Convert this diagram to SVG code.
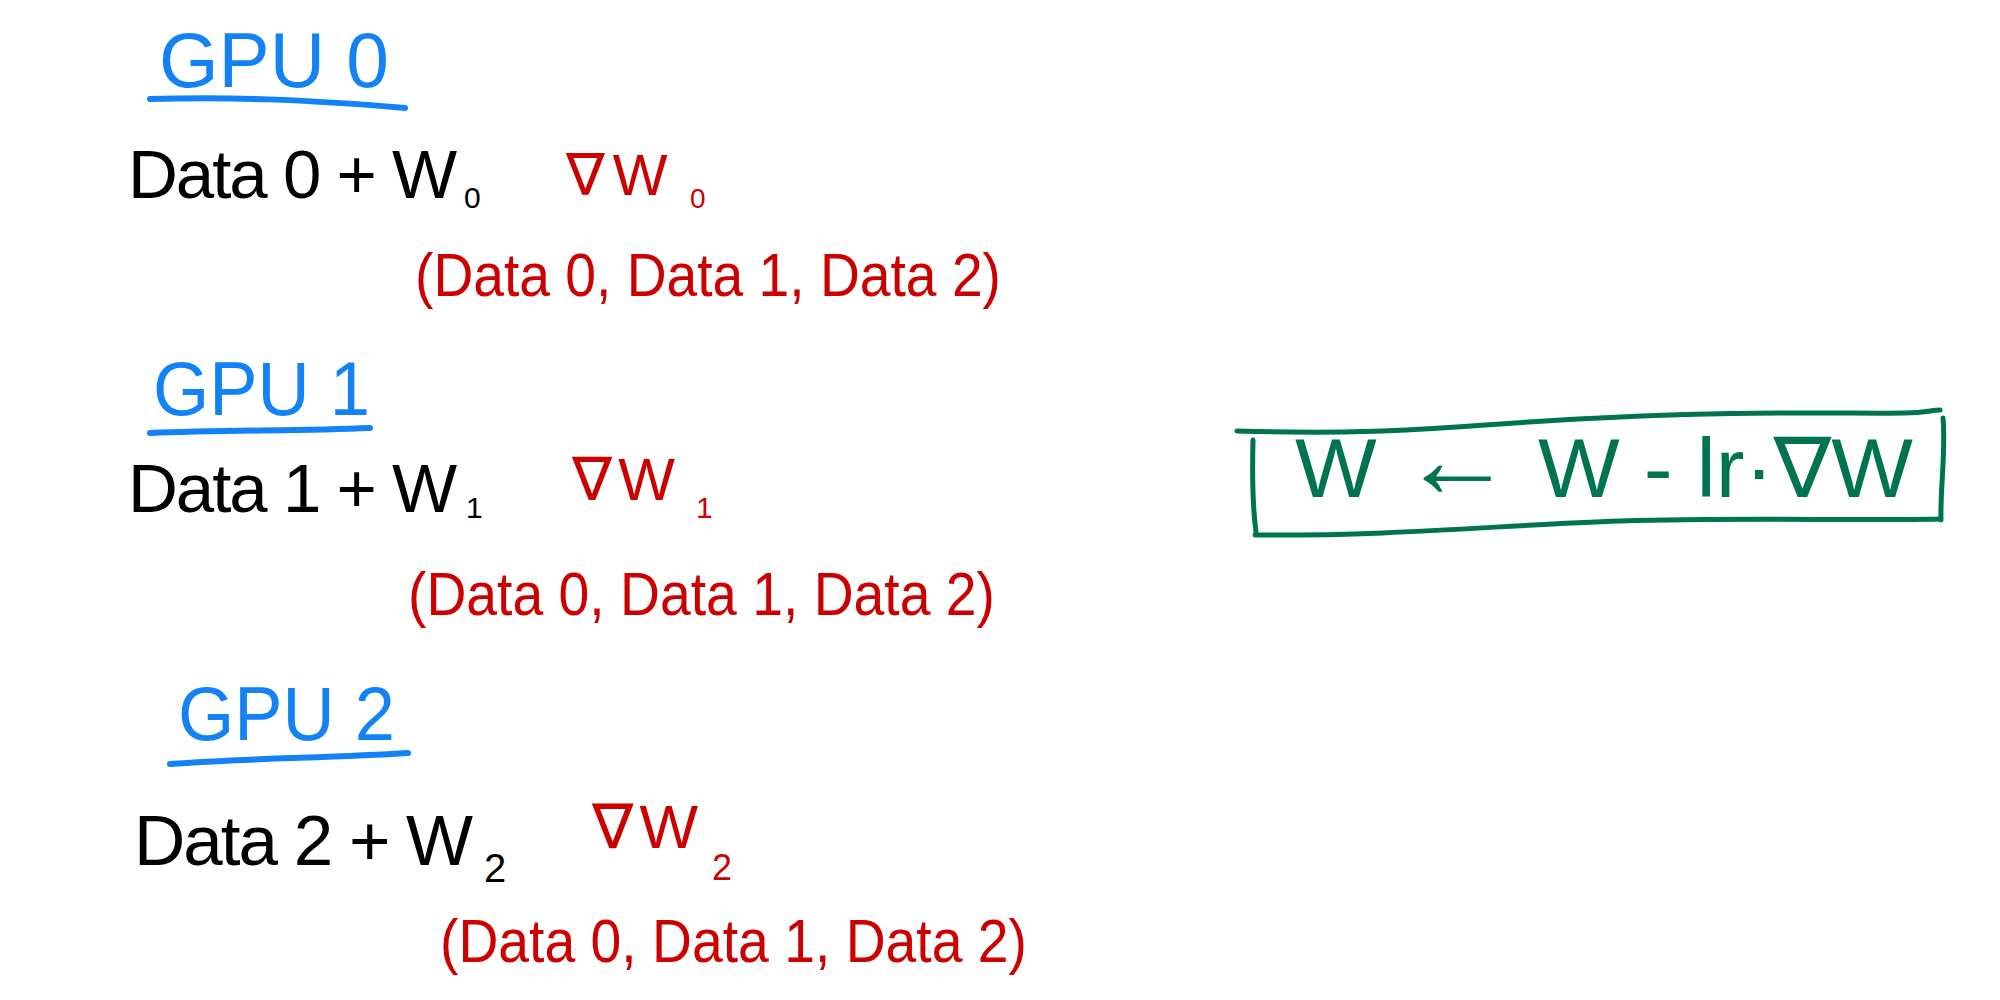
<svg xmlns="http://www.w3.org/2000/svg" width="2000" height="1000" viewBox="0 0 2000 1000">
<style>
text{font-family:"Liberation Sans","DejaVu Sans",sans-serif}
.blue{fill:#1382f5}
.blk{fill:#000}
.red{fill:#cc0000}
.grn{fill:#007350}
.ul{fill:none;stroke:#1382f5;stroke-width:6;stroke-linecap:round}
.box{fill:none;stroke:#007350;stroke-width:5;stroke-linecap:round}
</style>
<rect width="2000" height="1000" fill="#fff"/>
<g id="gpu0">
<text class="blue" x="159" y="87" font-size="78" textLength="230" lengthAdjust="spacingAndGlyphs">GPU 0</text>
<path class="ul" d="M150,99 C230,97 300,99 405,108"/>
<text class="blk" x="128" y="198" font-size="69" letter-spacing="-2">Data 0 + W</text>
<text class="blk" x="464" y="208" font-size="30">0</text>
<text class="red" x="566" y="195" font-size="58" letter-spacing="8">∇W</text>
<text class="red" x="690" y="208" font-size="28">0</text>
<text class="red" x="415" y="296" font-size="62" textLength="586" lengthAdjust="spacingAndGlyphs">(Data 0, Data 1, Data 2)</text>
</g>
<g id="gpu1">
<text class="blue" x="153" y="415" font-size="76" textLength="217" lengthAdjust="spacingAndGlyphs">GPU 1</text>
<path class="ul" d="M150,433 C230,430 300,431 370,428"/>
<text class="blk" x="128" y="512" font-size="69" letter-spacing="-2">Data 1 + W</text>
<text class="blk" x="466" y="518" font-size="30">1</text>
<text class="red" x="572" y="500" font-size="60" letter-spacing="6">∇W</text>
<text class="red" x="696" y="518" font-size="30">1</text>
<text class="red" x="408" y="615" font-size="62" textLength="587" lengthAdjust="spacingAndGlyphs">(Data 0, Data 1, Data 2)</text>
</g>
<g id="gpu2">
<text class="blue" x="178" y="740" font-size="76" textLength="217" lengthAdjust="spacingAndGlyphs">GPU 2</text>
<path class="ul" d="M170,764 C250,758 330,758 408,753"/>
<text class="blk" x="134" y="865" font-size="71" letter-spacing="-2">Data 2 + W</text>
<text class="blk" x="484" y="882" font-size="40">2</text>
<text class="red" x="592" y="848" font-size="62" letter-spacing="6">∇W</text>
<text class="red" x="712" y="880" font-size="36">2</text>
<text class="red" x="440" y="962" font-size="62" textLength="587" lengthAdjust="spacingAndGlyphs">(Data 0, Data 1, Data 2)</text>
</g>
<g id="update">
<path class="box" d="M1237,431 C1400,436 1450,425 1600,418 C1750,410 1850,414 1905,413 C1925,413 1932,410 1940,410"/>
<path class="box" d="M1943,418 C1946,450 1940,490 1941,520"/>
<path class="box" d="M1255,535 C1400,536 1500,525 1620,521 C1750,517 1850,521 1940,519"/>
<path class="box" d="M1253,440 C1252,480 1253,510 1256,532"/>
<text class="grn" x="1295" y="497" font-size="84" textLength="618" lengthAdjust="spacingAndGlyphs">W <tspan font-size="110">←</tspan> W - lr·∇W</text>
</g>
<g id="connectors"></g>
</svg>
